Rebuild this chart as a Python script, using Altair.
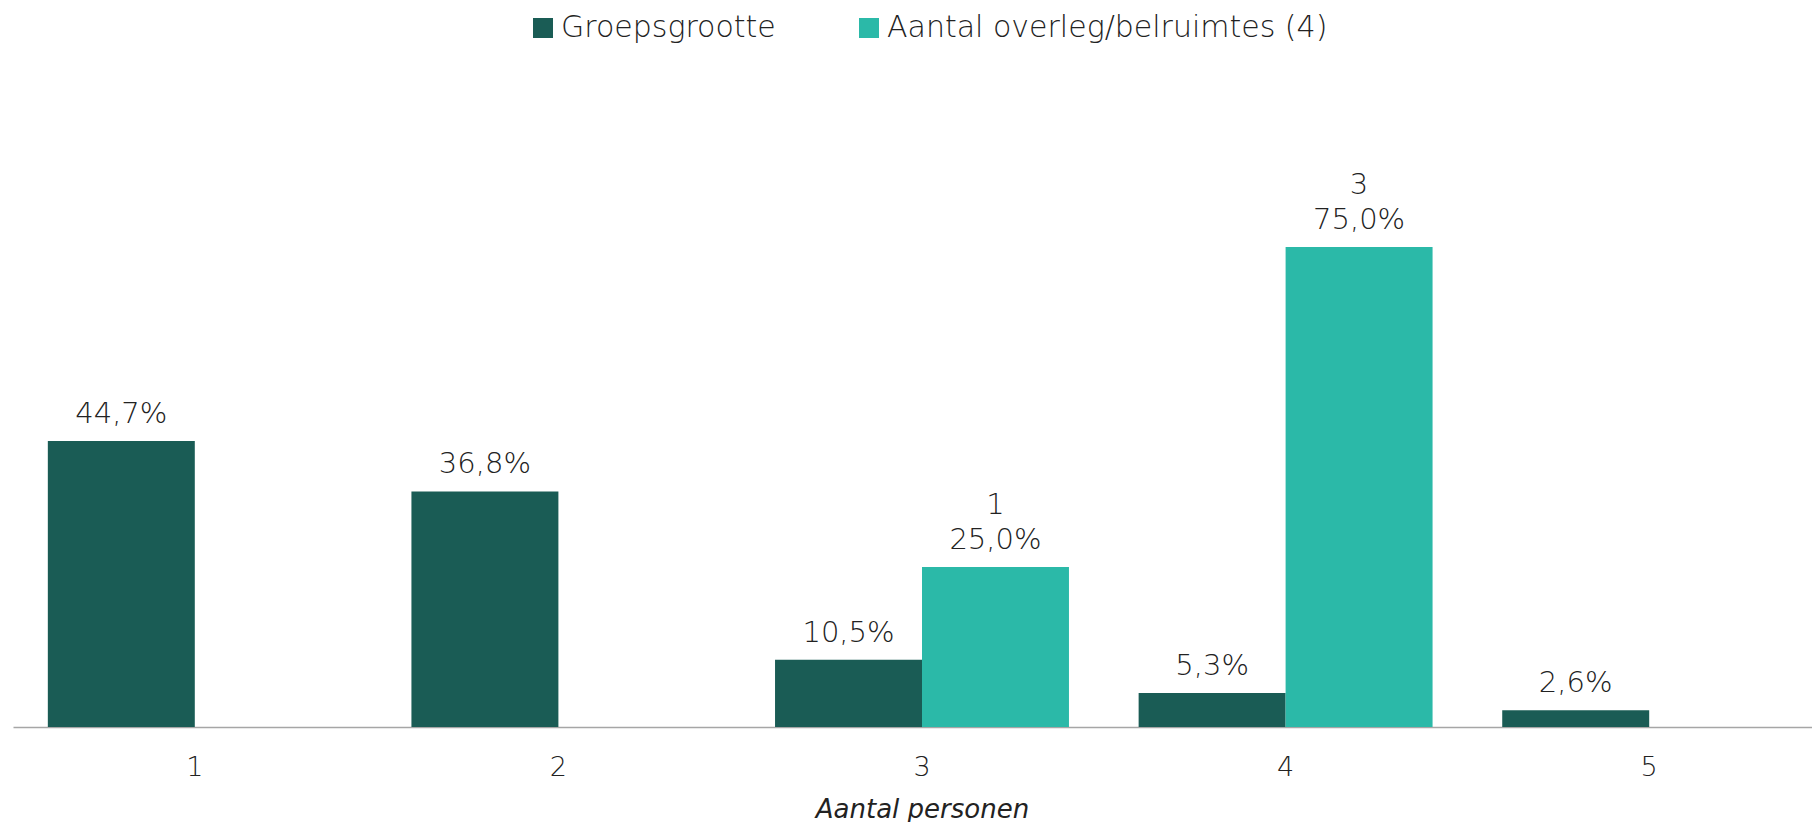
import altair as alt
import pandas as pd

categories = ["1", "2", "3", "4", "5"]
series_names = ["Groepsgrootte", "Aantal overleg/belruimtes (4)"]
series_colors = ["#1A5C55", "#2BB9A8"]
groeps_pct = [44.7, 36.8, 10.5, 5.3, 2.6]
overleg_pct = [None, None, 25.0, 75.0, None]
overleg_n = [None, None, 1, 3, None]

FONT = "DejaVu Sans"


def pct(v):
    return f"{v:.1f}".replace(".", ",") + "%"


rows = []
for c, g in zip(categories, groeps_pct):
    rows.append({"cat": c, "series": series_names[0], "value": g,
                 "label": pct(g), "count": ""})
for c, v, n in zip(categories, overleg_pct, overleg_n):
    if v is not None:
        rows.append({"cat": c, "series": series_names[1], "value": v,
                     "label": pct(v), "count": str(n)})
df = pd.DataFrame(rows)

x_enc = alt.X(
    "cat:N",
    sort=categories,
    scale=alt.Scale(range=[0, 1818], paddingInner=0, paddingOuter=0),
    axis=alt.Axis(
        title="Aantal personen",
        labelAngle=0,
        ticks=False,
        labelPadding=27,
        labelFontSize=27,
        labelFont=FONT,
        labelFontWeight=300,
        labelColor="#222222",
        titleFont=FONT,
        titleFontSize=26,
        titleFontStyle="italic",
        titleFontWeight=300,
        titleColor="#222222",
        titlePadding=16,
        domainColor="#A6A6A6",
        domainWidth=1.5,
        grid=False,
    ),
)
xoff_enc = alt.XOffset(
    "series:N",
    sort=series_names,
    scale=alt.Scale(domain=series_names, paddingInner=0, paddingOuter=0.237),
)
y_enc = alt.Y("value:Q", scale=alt.Scale(domain=[0, 80]), axis=None)

bars = alt.Chart(df).mark_bar().encode(
    x=x_enc,
    xOffset=xoff_enc,
    y=y_enc,
    color=alt.Color(
        "series:N",
        sort=series_names,
        scale=alt.Scale(domain=series_names, range=series_colors),
        legend=alt.Legend(
            title=None,
            orient="none",
            direction="horizontal",
            legendX=515,
            legendY=-202,
            symbolType="square",
            symbolSize=400,
            symbolStrokeWidth=0,
            labelFont=FONT,
            labelFontSize=30,
            labelFontWeight=300,
            labelColor="#222222",
            labelOffset=3,
            labelLimit=0,
            columnPadding=78,
            padding=0,
        ),
    ),
)

text_style = dict(
    baseline="alphabetic",
    align="center",
    font=FONT,
    fontSize=29,
    fontWeight=300,
    color="#222222",
)

pct_labels = alt.Chart(df).mark_text(dy=-18, **text_style).encode(
    x=x_enc,
    xOffset=xoff_enc,
    y=y_enc,
    text="label:N",
)

count_labels = alt.Chart(df).mark_text(dy=-53, **text_style).encode(
    x=x_enc,
    xOffset=xoff_enc,
    y=y_enc,
    text="count:N",
)

chart = (
    alt.layer(bars, pct_labels, count_labels)
    .properties(
        width=1799,
        height=512,
        background="white",
        autosize=alt.AutoSizeParams(type="none"),
        padding={"left": 5, "top": 207, "right": 0, "bottom": 95},
    )
    .configure_view(strokeWidth=0, stroke="transparent")
)

chart.save("out.html", embed_options={"renderer": "svg", "actions": False})
